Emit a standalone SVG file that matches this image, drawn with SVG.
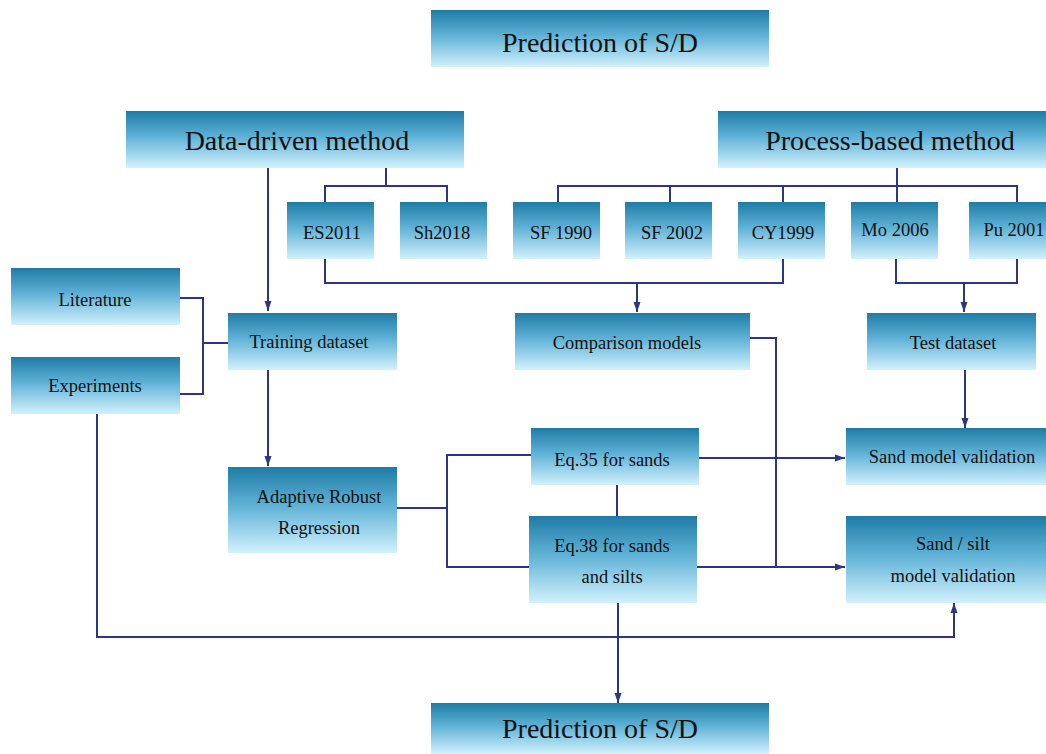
<svg xmlns="http://www.w3.org/2000/svg" width="1046" height="754" viewBox="0 0 1046 754">
<defs>
<linearGradient id="g" x1="0" y1="0" x2="0" y2="1">
<stop offset="0" stop-color="#1f7ca6"/>
<stop offset="0.45" stop-color="#5fb2d6"/>
<stop offset="1" stop-color="#d2f1fd"/>
</linearGradient>
<marker id="ah" markerUnits="userSpaceOnUse" markerWidth="11" markerHeight="8" refX="10" refY="4" orient="auto">
<path d="M0,0.5 L10,4 L0,7.5 z" fill="#2b3784"/>
</marker>
<style>
rect.b{fill:url(#g);}
text{font-family:'Liberation Serif','Times New Roman','DejaVu Serif',serif;fill:#111;text-anchor:middle;}
.big{font-size:28px;}
.sm{font-size:18.5px;}
.c path{fill:none;stroke:#2b3784;stroke-width:2;}
</style>
</defs>
<rect width="1046" height="754" fill="#ffffff"/>
<g class="c" id="connectors">
<path d="M268,168 V311" marker-end="url(#ah)"/>
<path d="M386,168 V186 M325,202 V186 H447 V202"/>
<path d="M897,168 V186 M558,202 V186 H1017 V202 M670,186 V202 M783,186 V202 M897,186 V202"/>
<path d="M325,259 V283 H783 V259"/>
<path d="M637,283 V312" marker-end="url(#ah)"/>
<path d="M896,259 V283 H1017 V259"/>
<path d="M964,283 V312" marker-end="url(#ah)"/>
<path d="M180,298 H203 V394 H180 M203,343 H228"/>
<path d="M268,370 V466" marker-end="url(#ah)"/>
<path d="M397,508 H447 M531,455 H447 V567 H529"/>
<path d="M617,485 V516"/>
<path d="M699,458 H845" marker-end="url(#ah)"/>
<path d="M697,567 H845" marker-end="url(#ah)"/>
<path d="M750,338 H776 V567"/>
<path d="M965,370 V428" marker-end="url(#ah)"/>
<path d="M97,414 V637 H954 V603" marker-end="url(#ah)"/>
<path d="M618,603 V703" marker-end="url(#ah)"/>
</g>
<g id="n-pred-top"><rect class="b" x="431" y="10" width="338" height="57"/><text class="big" x="600" y="52" font-family="Liberation Serif, serif">Prediction of S/D</text></g>
<g id="n-data"><rect class="b" x="126" y="111" width="338" height="57"/><text class="big" x="297" y="150">Data-driven method</text></g>
<g id="n-process"><rect class="b" x="718" y="111" width="344" height="57"/><text class="big" x="890" y="150">Process-based method</text></g>
<g id="n-es"><rect class="b" x="287" y="202" width="87" height="57"/><text class="sm" x="332" y="239">ES2011</text></g>
<g id="n-sh"><rect class="b" x="400" y="202" width="87" height="57"/><text class="sm" x="442" y="239">Sh2018</text></g>
<g id="n-sf90"><rect class="b" x="513" y="202" width="87" height="57"/><text class="sm" x="561" y="239">SF 1990</text></g>
<g id="n-sf02"><rect class="b" x="625" y="202" width="87" height="57"/><text class="sm" x="672" y="239">SF 2002</text></g>
<g id="n-cy"><rect class="b" x="738" y="202" width="87" height="57"/><text class="sm" x="783" y="239">CY1999</text></g>
<g id="n-mo"><rect class="b" x="851" y="202" width="87" height="57"/><text class="sm" x="895" y="236">Mo 2006</text></g>
<g id="n-pu"><rect class="b" x="969" y="202" width="90" height="57"/><text class="sm" x="1014" y="236">Pu 2001</text></g>
<g id="n-lit"><rect class="b" x="11" y="268" width="169" height="57"/><text class="sm" x="95" y="306">Literature</text></g>
<g id="n-exp"><rect class="b" x="11" y="357" width="169" height="57"/><text class="sm" x="95" y="392">Experiments</text></g>
<g id="n-train"><rect class="b" x="228" y="313" width="169" height="57"/><text class="sm" x="309" y="348">Training dataset</text></g>
<g id="n-comp"><rect class="b" x="515" y="313" width="235" height="57"/><text class="sm" x="627" y="349">Comparison models</text></g>
<g id="n-test"><rect class="b" x="867" y="313" width="169" height="57"/><text class="sm" x="953" y="349">Test dataset</text></g>
<g id="n-arr"><rect class="b" x="228" y="467" width="169" height="86"/><text class="sm" x="319" y="503">Adaptive Robust</text><text class="sm" x="319" y="534">Regression</text></g>
<g id="n-eq35"><rect class="b" x="531" y="428" width="168" height="57"/><text class="sm" x="612" y="466">Eq.35 for sands</text></g>
<g id="n-eq38"><rect class="b" x="529" y="516" width="168" height="87"/><text class="sm" x="612" y="552">Eq.38 for sands</text><text class="sm" x="612" y="583">and silts</text></g>
<g id="n-sandval"><rect class="b" x="846" y="428" width="200" height="57"/><text class="sm" x="952" y="463">Sand model validation</text></g>
<g id="n-siltval"><rect class="b" x="846" y="516" width="200" height="87"/><text class="sm" x="953" y="550">Sand / silt</text><text class="sm" x="953" y="582">model validation</text></g>
<g id="n-pred-bot"><rect class="b" x="431" y="703" width="338" height="51"/><text class="big" x="600" y="738">Prediction of S/D</text></g>
</svg>
